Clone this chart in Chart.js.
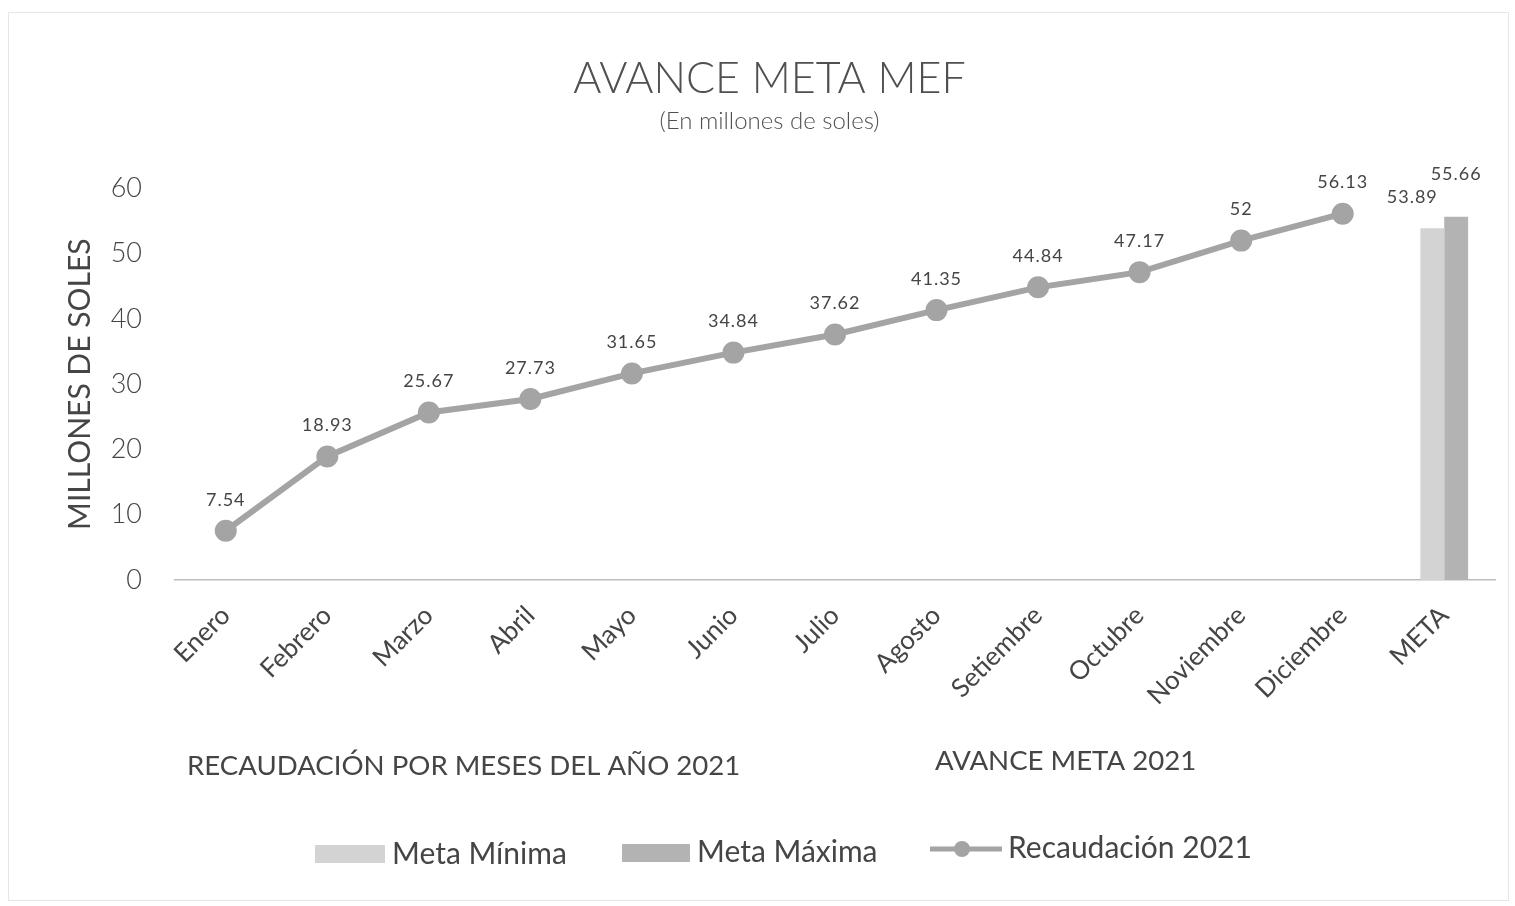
<!DOCTYPE html>
<html>
<head>
<meta charset="utf-8">
<script src="https://cdn.jsdelivr.net/npm/chart.js@4/dist/chart.umd.min.js"></script>
<style>
  html, body { margin: 0; padding: 0; background: #fff; }
  #wrap { width: 1515px; height: 906px; }
</style>
</head>
<body>
<div id="wrap"><canvas id="c" width="1515" height="906"></canvas></div>
<script>
const categories = ['Enero', 'Febrero', 'Marzo', 'Abril', 'Mayo', 'Junio', 'Julio',
  'Agosto', 'Setiembre', 'Octubre', 'Noviembre', 'Diciembre', 'META'];
const recaudacion = [7.54, 18.93, 25.67, 27.73, 31.65, 34.84, 37.62, 41.35, 44.84, 47.17, 52, 56.13, null];
const metaMinima = [null, null, null, null, null, null, null, null, null, null, null, null, 53.89];
const metaMaxima = [null, null, null, null, null, null, null, null, null, null, null, null, 55.66];
const yTicks = [0, 10, 20, 30, 40, 50, 60];

const FONT = 'Lato';
const TEXT = '#454545';
const LINE_GRAY = '#a4a4a4';
const MIN_GRAY = '#d3d3d3';
const MAX_GRAY = '#b3b3b3';

// value labels above points and bars (x shift, gap above the mark)
const labelPos = { 'Recaudación 2021': [0, 22], 'Meta Mínima': [-20, 22], 'Meta Máxima': [0, 34] };

const valueLabels = {
  id: 'valueLabels',
  afterDatasetsDraw(chart) {
    const {ctx} = chart;
    ctx.save();
    ctx.font = `18px ${FONT}`;
    ctx.letterSpacing = '1px';
    ctx.fillStyle = TEXT;
    ctx.textAlign = 'center';
    ctx.textBaseline = 'bottom';
    chart.data.datasets.forEach((ds, i) => {
      const meta = chart.getDatasetMeta(i);
      const [dx, gap] = labelPos[ds.label];
      meta.data.forEach((el, j) => {
        const v = ds.data[j];
        if (v === null || v === undefined) return;
        ctx.fillText(String(v), el.x + dx, el.y - gap);
      });
    });
    ctx.restore();
  }
};

// captions under the axis, custom legend and the frame
const extras = {
  id: 'extras',
  beforeDraw(chart) {
    const {ctx} = chart;
    ctx.save();
    ctx.fillStyle = '#fff';
    ctx.fillRect(0, 0, chart.width, chart.height);
    ctx.strokeStyle = '#e6e6e6';
    ctx.lineWidth = 1;
    ctx.strokeRect(8.5, 12.5, 1500, 888);
    ctx.restore();
  },
  afterDraw(chart) {
    const {ctx} = chart;
    ctx.save();
    ctx.fillStyle = TEXT;
    ctx.textBaseline = 'middle';
    ctx.textAlign = 'left';
    ctx.font = `27.6px ${FONT}`;
    ctx.fillText('RECAUDACIÓN POR MESES DEL AÑO 2021', 187, 766);
    ctx.fillText('AVANCE META 2021', 935, 761);

    // legend
    ctx.font = `30px ${FONT}`;
    ctx.fillStyle = MIN_GRAY;
    ctx.fillRect(315, 845, 70, 18);
    ctx.fillStyle = TEXT;
    ctx.fillText('Meta Mínima', 392, 854);

    ctx.fillStyle = MAX_GRAY;
    ctx.fillRect(622, 844, 68, 18);
    ctx.fillStyle = TEXT;
    ctx.fillText('Meta Máxima', 697, 852);

    ctx.strokeStyle = LINE_GRAY;
    ctx.lineWidth = 5;
    ctx.beginPath();
    ctx.moveTo(930, 849);
    ctx.lineTo(1002, 849);
    ctx.stroke();
    ctx.fillStyle = LINE_GRAY;
    ctx.beginPath();
    ctx.arc(962, 849, 8, 0, Math.PI * 2);
    ctx.fill();
    ctx.fillStyle = TEXT;
    ctx.fillText('Recaudación 2021', 1008, 848);
    ctx.restore();
  }
};

new Chart(document.getElementById('c'), {
  data: {
    labels: categories,
    datasets: [
      {
        type: 'line',
        label: 'Recaudación 2021',
        data: recaudacion,
        borderColor: LINE_GRAY,
        backgroundColor: LINE_GRAY,
        borderWidth: 6,
        pointRadius: 8,
        pointBackgroundColor: LINE_GRAY,
        pointBorderColor: LINE_GRAY,
        tension: 0,
        order: 0
      },
      {
        type: 'bar',
        label: 'Meta Mínima',
        data: metaMinima,
        backgroundColor: MIN_GRAY,
        categoryPercentage: 0.47,
        barPercentage: 1.0,
        order: 1
      },
      {
        type: 'bar',
        label: 'Meta Máxima',
        data: metaMaxima,
        backgroundColor: MAX_GRAY,
        categoryPercentage: 0.47,
        barPercentage: 1.0,
        order: 1
      }
    ]
  },
  options: {
    responsive: false,
    animation: false,
    layout: { padding: { top: 40, right: 20, bottom: 0, left: 44 } },
    plugins: {
      legend: { display: false },
      tooltip: { enabled: false },
      title: {
        display: true,
        text: 'AVANCE META MEF',
        color: '#505050',
        font: { family: FONT, size: 43, weight: 300, lineHeight: 1.2 },
        padding: { top: 13, bottom: 0 }
      },
      subtitle: {
        display: true,
        text: '(En millones de soles)',
        color: '#505050',
        font: { family: FONT, size: 24, weight: 300, lineHeight: 1.2 },
        padding: { top: 2, bottom: 53 }
      }
    },
    scales: {
      x: {
        offset: true,
        grid: { display: false, drawTicks: false },
        border: { display: true, color: '#bdbdbd', width: 1.5 },
        ticks: {
          color: TEXT,
          font: { family: FONT, size: 26 },
          minRotation: 45,
          maxRotation: 45,
          padding: 20,
          autoSkip: false
        },
        afterFit(scale) { scale.height = 326; }
      },
      y: {
        min: 0,
        max: 60,
        afterBuildTicks(scale) { scale.ticks = yTicks.map(v => ({value: v})); },
        grid: { display: false, drawTicks: false },
        border: { display: false },
        ticks: {
          color: TEXT,
          font: { family: FONT, size: 27, weight: 300 },
          padding: 33
        },
        title: {
          display: true,
          text: 'MILLONES DE SOLES',
          color: TEXT,
          font: { family: FONT, size: 30 },
          padding: { top: 18, bottom: 0 }
        },
        afterFit(scale) { scale.width = 131; }
      }
    }
  },
  plugins: [extras, valueLabels]
});
</script>
</body>
</html>
